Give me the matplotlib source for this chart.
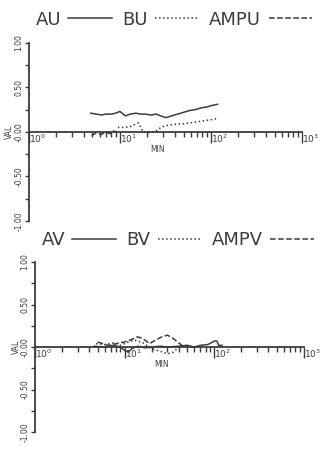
import matplotlib
matplotlib.use("Agg")
import matplotlib.pyplot as plt
from matplotlib.lines import Line2D

# === Datos ===
au_x = [4.8, 5.5, 6.3, 7.0, 8.0, 9.0, 10, 11.5, 13, 15, 17, 19, 22, 25, 28, 32, 37, 43, 50, 58, 67, 78, 90, 105, 118]
au_y = [0.21, 0.20, 0.19, 0.20, 0.20, 0.21, 0.23, 0.18, 0.20, 0.21, 0.20, 0.20, 0.19, 0.20, 0.18, 0.16, 0.18, 0.20, 0.22, 0.24, 0.25, 0.27, 0.28, 0.30, 0.31]
bu_x = [9.5, 11, 13, 15, 16, 17, 18, 20, 23, 26, 28, 32, 37, 43, 50, 58, 67, 78, 90, 105, 118]
bu_y = [0.05, 0.05, 0.06, 0.09, 0.10, 0.05, 0.0, -0.01, 0.0, 0.02, 0.05, 0.07, 0.08, 0.09, 0.09, 0.10, 0.11, 0.12, 0.13, 0.14, 0.15]
ampu_x = [4.9, 5.5, 6.2, 7.0, 7.8, 8.5, 9.3]
ampu_y = [-0.04, -0.01, -0.03, 0.0, -0.02, 0.01, 0.0]

av_x = [4.6, 6, 7.5, 9, 10, 11, 12, 14, 17, 20, 25, 30, 40, 50, 60, 70, 85, 100, 107, 112, 122]
av_y = [0.01, 0.0, 0.02, 0.0, -0.04, -0.06, -0.02, 0.01, -0.01, 0.0, 0.01, 0.0, 0.01, 0.02, 0.0, 0.02, 0.03, 0.07, 0.07, 0.02, 0.02]
bv_x = [4.8, 6, 7.5, 9, 11, 13, 16, 20, 25, 30, 35, 40, 50]
bv_y = [0.04, 0.03, 0.05, 0.02, 0.06, 0.08, 0.05, -0.02, -0.05, -0.08, -0.06, 0.0, 0.02]
ampv_x = [5, 6.5, 8, 10, 12, 14, 16, 19, 22, 26, 30, 35, 40, 45, 50]
ampv_y = [0.06, 0.02, 0.04, 0.06, 0.09, 0.12, 0.10, 0.04, 0.08, 0.12, 0.14, 0.10, 0.05, 0.01, 0.0]

ytick_vals = [1.0, 0.5, 0.0, -0.5, -1.0]
ytick_labels = ["1.00", "0.50", "-0.00", "-0.50", "-1.00"]
decadas = [1, 10, 100, 1000]
decada_labels = ["$10^0$", "$10^1$", "$10^2$", "$10^3$"]

INK = "#3c3c3c"

fig = plt.figure(figsize=(3.2, 4.51), dpi=100)


def panel(rect, series, nombres):
    ax = fig.add_axes(rect)
    estilos = ["-", ":", "--"]
    for (x, y), ls in zip(series, estilos):
        ax.plot(x, y, color=INK, lw=1.1, ls=ls)
    ax.set_xscale("log")
    ax.set_xlim(1, 1000)
    ax.set_ylim(-1, 1)
    for s in ["top", "right"]:
        ax.spines[s].set_visible(False)
    ax.spines["bottom"].set_position(("data", 0))
    ax.spines["left"].set_bounds(-1, 1)
    for s in ["left", "bottom"]:
        ax.spines[s].set_color(INK)
        ax.spines[s].set_linewidth(1.3)
    ax.set_yticks(ytick_vals)
    ax.set_yticklabels(ytick_labels, rotation=90, va="center", fontsize=5.5, color=INK)
    ax.set_yticks([0.75, 0.25, -0.25, -0.75], minor=True)
    ax.tick_params(axis="y", which="both", length=3, width=1, color=INK, pad=1)
    ax.set_xticks(decadas)
    ax.set_xticklabels(decada_labels, fontsize=6.5, color=INK, ha="left")
    ax.tick_params(axis="x", which="major", length=8, width=1, color=INK, pad=-7.5)
    ax.tick_params(axis="x", which="minor", length=3.5, width=1, color=INK)
    ax.text(-0.07, 0.5, "VAL", transform=ax.transAxes, rotation=90,
            ha="center", va="center", fontsize=5.5, color=INK)
    ax.text(0.47, 0.4, "MIN", transform=ax.transAxes, ha="center",
            va="center", fontsize=5.5, color=INK)
    handles = [Line2D([], [], color=INK, lw=1.1, ls=ls) for ls in estilos]
    ax.legend(handles, nombres, ncol=3, markerfirst=False, frameon=False,
              loc="center", bbox_to_anchor=(0.53, 1.13), fontsize=13,
              handlelength=2.4, columnspacing=0.6, handletextpad=0.4,
              labelcolor=INK, borderpad=0)
    return ax


panel([0.09, 0.51, 0.854, 0.395],
      [(au_x, au_y), (bu_x, bu_y), (ampu_x, ampu_y)], ["AU", "BU", "AMPU"])
panel([0.109, 0.042, 0.841, 0.377],
      [(av_x, av_y), (bv_x, bv_y), (ampv_x, ampv_y)], ["AV", "BV", "AMPV"])

fig.savefig("out.png", dpi=100)
